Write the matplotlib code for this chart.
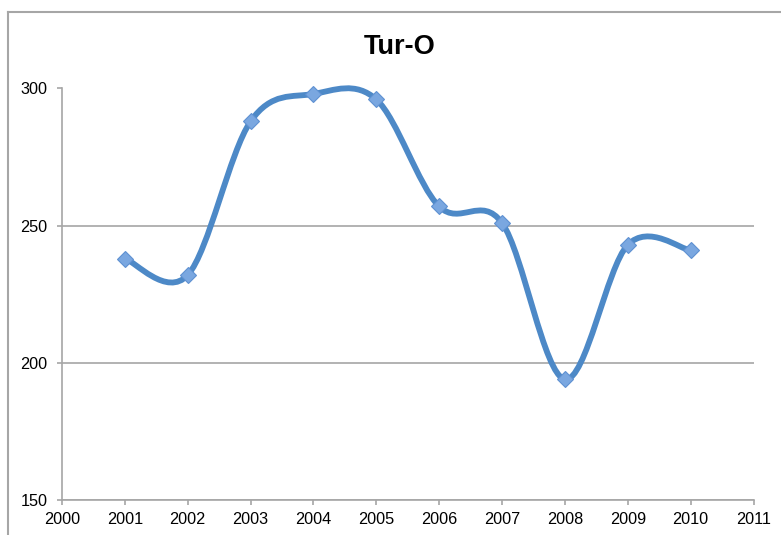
import numpy as np
import matplotlib
matplotlib.use("Agg")
import matplotlib.pyplot as plt
from matplotlib.path import Path
from matplotlib.patches import PathPatch
from matplotlib.lines import Line2D

# data
years = [2001, 2002, 2003, 2004, 2005, 2006, 2007, 2008, 2009, 2010]
values = [238, 232, 288, 298, 296, 257, 251, 194, 243, 241]
x_ticks = list(range(2000, 2012))
y_ticks = [150, 200, 250, 300]

plt.rcParams['font.family'] = ['Liberation Sans', 'DejaVu Sans']

fig = plt.figure(figsize=(7.81, 5.35), dpi=100)
W, H = 781, 535
ax = fig.add_axes([62 / W, (H - 500) / H, (753.5 - 62) / W, (500 - 88.5) / H])

# outer chart frame (cut off at the right and bottom)
grey = '#a6a6a6'
fig.add_artist(Line2D([8 / W, 8 / W], [0, 1 - 12 / H], color=grey, lw=1.5))
fig.add_artist(Line2D([8 / W, 1], [1 - 12 / H, 1 - 12 / H], color=grey, lw=1.5))

ax.set_xlim(2000, 2011)
ax.set_ylim(150, 300)
ax.set_xticks(x_ticks)
ax.set_yticks(y_ticks)

for s in ['top', 'right']:
    ax.spines[s].set_visible(False)
for s in ['left', 'bottom']:
    ax.spines[s].set_color(grey)
    ax.spines[s].set_linewidth(1.2)

ax.yaxis.grid(True, color=grey, lw=1.2)
ax.set_axisbelow(True)
ax.tick_params(axis='both', direction='out', length=3.5, width=1.2, color=grey,
               labelsize=11.7, labelcolor='black')
ax.tick_params(axis='x', pad=5.5)
ax.tick_params(axis='y', pad=7)

# smoothed line like Excel (cubic bezier between points)
pts = np.column_stack([years, values]).astype(float)
n = len(pts)
verts = [pts[0]]
codes = [Path.MOVETO]
for i in range(n - 1):
    p0 = pts[i - 1] if i > 0 else pts[i]
    p1 = pts[i]
    p2 = pts[i + 1]
    p3 = pts[i + 2] if i + 2 < n else pts[i + 1]
    c1 = p1 + (p2 - p0) / 6
    c2 = p2 - (p3 - p1) / 6
    verts += [c1, c2, p2]
    codes += [Path.CURVE4] * 3
curve = PathPatch(Path(verts, codes), facecolor='none', edgecolor='#4d89c7',
                  lw=4.2, capstyle='round', joinstyle='round', clip_on=False, zorder=3)
ax.add_patch(curve)

ax.plot(years, values, linestyle='none', marker='D', markersize=8.5,
        markerfacecolor='#7aa7e0', markeredgecolor='#5f91d2', markeredgewidth=0.8,
        zorder=4, clip_on=False)

fig.text(400 / W, 1 - 47 / H, 'Tur-O', ha='center', va='center',
         fontsize=19.5, fontweight='bold')

fig.savefig('out.png', dpi=100)
